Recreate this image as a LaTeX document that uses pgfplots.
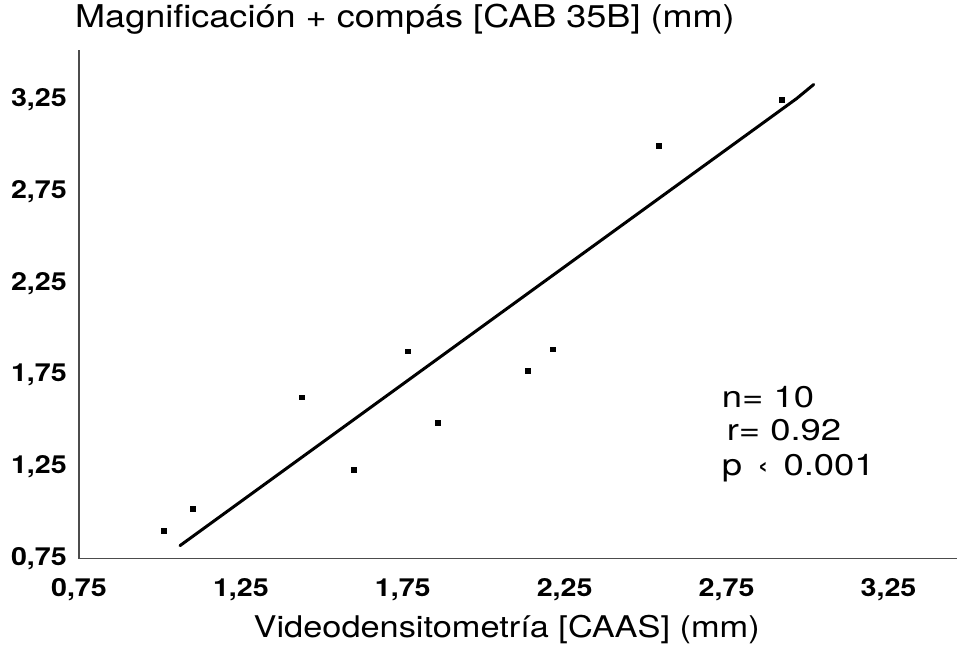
\documentclass[border=0pt]{standalone}
\usepackage{pgfplots}
\pgfplotsset{compat=1.18}
\usepackage{fontspec}
\setmainfont{TeX Gyre Heros}[FakeStretch=1.15]
\newfontfamily\annfont{TeX Gyre Heros}[FakeStretch=1.22]
\begin{document}
\begin{tikzpicture}
\begin{axis}[
  at={(0,0)}, anchor=south west,
  scale only axis, width=879bp, height=509bp,
  xmin=0.75, xmax=3.463, ymin=0.75, ymax=3.52,
  axis x line=bottom, axis y line=left,
  axis line style={-, draw=black!70, line width=1.1bp},
  major tick length=0pt,
  xtick={0.75,1.25,1.75,2.25,2.75,3.25},
  ytick={0.75,1.25,1.75,2.25,2.75,3.25},
  xticklabels={{0,75},{1,25},{1,75},{2,25},{2,75},{3,25}},
  yticklabels={{0,75},{1,25},{1,75},{2,25},{2,75},{3,25}},
  tick label style={font=\fontsize{25}{25}\selectfont\bfseries},
  xticklabel style={anchor=base, yshift=-38bp, inner sep=0pt},
  yticklabel style={anchor=east, xshift=-12bp, inner sep=0pt},
  title={Magnificación + compás [CAB 35B] (mm)},
  title style={at={(rel axis cs:0,1)}, anchor=base west, xshift=-4bp, yshift=16bp,
    inner sep=0pt, font=\fontsize{31.5}{31.5}\selectfont},
  xlabel={Videodensitometría [CAAS] (mm)},
  xlabel style={at={(rel axis cs:0,0)}, anchor=base, xshift=428bp, yshift=-79bp,
    inner sep=0pt, font=\fontsize{30}{30}\selectfont},
]
% observed pairs
\addplot[only marks, mark=square*, mark size=2.3bp, black] coordinates {
  (1.012,0.902) (1.102,1.022) (1.438,1.630) (1.599,1.234) (1.765,1.880)
  (1.858,1.489) (2.136,1.772) (2.213,1.891) (2.540,3.000) (2.920,3.250)
};
% regression line (hand drawn)
\addplot[black, line width=3bp, line cap=round, line join=round] coordinates {
  (1.062,0.821) (2.966,3.255) (3.019,3.332)
};
\node[anchor=base west, inner sep=0pt, font=\annfont\fontsize{30}{30}\selectfont] at (axis cs:2.735,1.571) {n= 10};
\node[anchor=base west, inner sep=0pt, font=\annfont\fontsize{30}{30}\selectfont] at (axis cs:2.750,1.391) {r= 0.92};
\node[anchor=base west, inner sep=0pt, font=\annfont\fontsize{30}{30}\selectfont] at (axis cs:2.735,1.201) {p\hspace{0.15em} ‹\hspace{0.15em} 0.001};
\end{axis}
\useasboundingbox (-79bp,-91bp) rectangle (879bp,559bp);
\end{tikzpicture}
\end{document}
